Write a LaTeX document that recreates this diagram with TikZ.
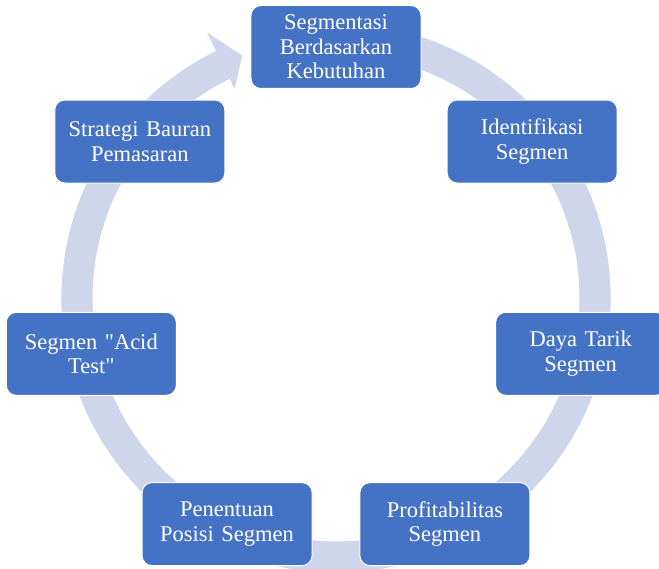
\documentclass[tikz,border=0pt]{standalone}
\usepackage{fontspec}
\setmainfont{Liberation Serif}
\usepackage{xcolor}
\definecolor{boxblue}{HTML}{4472C4}
\definecolor{bandgrey}{HTML}{CFD5EA}

\tikzset{
  stagebox/.style={fill=boxblue, draw=white, line width=1pt,
    rounded corners=10pt, minimum width=170pt, minimum height=83pt,
    text width=166pt, align=center, inner sep=0pt, text=white,
    font=\fontsize{22.5}{24.5}\selectfont},
  band/.style={fill=bandgrey, draw=white, line width=0.8pt}
}

\begin{document}
\begin{tikzpicture}[x=1pt,y=1pt]

\useasboundingbox (-336,-271) rectangle (323,298);

% Circular band, ending in an arrow head left of the top box
\filldraw[band]
  (80:275) arc (80:-244:275)
  -- (-244:297) -- (-249:260) -- (-244:231)
  -- (-244:243) arc (-244:80:243) -- cycle;

% The seven stages, clockwise from the top
\foreach \name/\txt [count=\i from 0] in {
    segmentasi/{Segmentasi\\Berdasarkan\\Kebutuhan},
    identifikasi/{Identifikasi\\Segmen},
    dayatarik/{Daya Tarik\\Segmen},
    profit/{Profitabilitas\\Segmen},
    posisi/{Penentuan\\Posisi Segmen},
    acidtest/{Segmen \textquotedbl Acid\\Test\textquotedbl},
    bauran/{Strategi Bauran\\Pemasaran}}
  \node[stagebox] (\name) at ({90-\i*360/7}:251) {\txt};

\end{tikzpicture}
\end{document}
